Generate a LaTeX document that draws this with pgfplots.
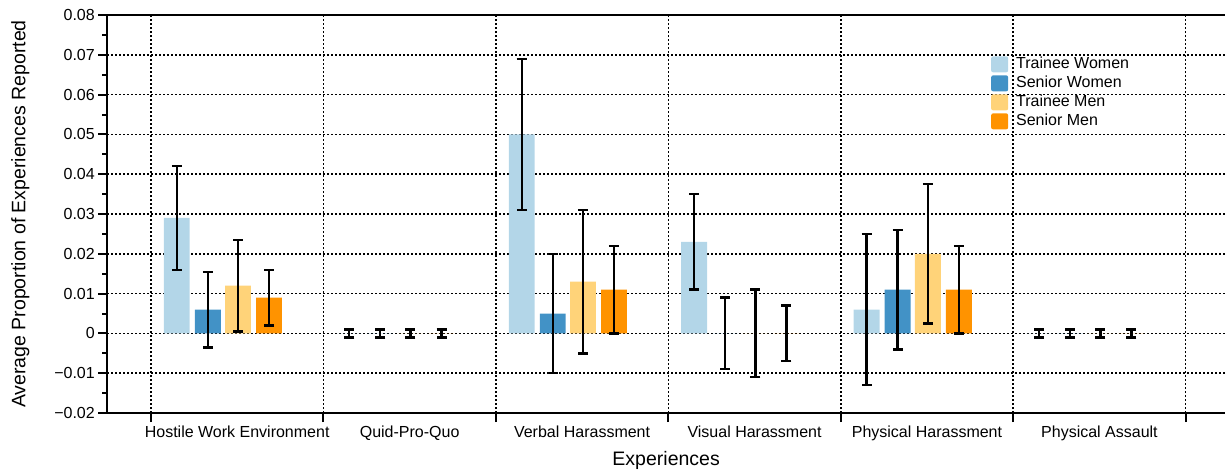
\documentclass[border=0pt]{standalone}
\usepackage{pgfplots}
\pgfplotsset{compat=1.18}
\usepackage{fontspec}
\setmainfont{Liberation Sans}
\definecolor{tw}{RGB}{179,214,232}
\definecolor{sw}{RGB}{66,146,198}
\definecolor{tm}{RGB}{255,211,121}
\definecolor{sm}{RGB}{255,147,0}
\begin{document}
\begin{tikzpicture}
\begin{axis}[
  name=ax, at={(0,0)}, anchor=south west, scale only axis,
  width=1117.7pt, height=398pt,
  xmin=-0.253, xmax=6.228, ymin=-0.02, ymax=0.08,
  separate axis lines,
  axis x line=box, axis y line=left,
  axis line style={-, line width=2pt, black},
  tick align=outside,
  major tick length=9pt, minor tick length=5pt,
  every tick/.style={black, line width=2pt},
  xtick={0,1,2,3,4,5,6}, xticklabels={}, xtick pos=left,
  extra x ticks={0.5,1.5,2.5,3.5,4.5,5.5},
  extra x tick labels={Hostile Work Environment,Quid-Pro-Quo,Verbal Harassment,Visual Harassment,Physical Harassment,Physical Assault},
  extra x tick style={major tick length=0pt, grid=none},
  xticklabel style={yshift=-9pt},
  ytick={-0.02,-0.01,0,0.01,0.02,0.03,0.04,0.05,0.06,0.07,0.08},
  yticklabels={−0.02,−0.01,0,0.01,0.02,0.03,0.04,0.05,0.06,0.07,0.08},
  scaled y ticks=false,
  minor y tick num=1,
  tick label style={font=\fontsize{16}{18}\selectfont},
  grid=major,
  grid style={black, line width=1.6pt, dash pattern=on 1.6pt off 2.4pt},
  xlabel={Experiences},
  ylabel={Average Proportion of Experiences Reported},
  every axis x label/.style={at={(rel axis cs:0.5,0)}, anchor=center, yshift=-47pt, font=\fontsize{19.5}{22}\selectfont},
  every axis y label/.style={at={(rel axis cs:0,0.5)}, xshift=-87pt, rotate=90, anchor=center, font=\fontsize{19.5}{22}\selectfont},
  legend image code/.code={\fill[#1, draw=none, rounded corners=2pt] (0pt,-8pt) rectangle (17pt,8pt); \path (24pt,0pt);},
  legend cell align=left,
  legend style={at={(rel axis cs:0.7906,0.8985)}, anchor=north west, draw=none, fill=none,
    inner sep=0pt, row sep=1.5pt,
    font=\fontsize{16}{18}\selectfont,
    nodes={inner sep=1pt, text height=12pt, text depth=3.5pt}},
  error bars/error bar style={line width=2.4pt, black},
  error bars/error mark options={rotate=90, mark size=5pt, line width=2.4pt, black},
]
\addplot[ybar, bar width=0.15, bar shift=0pt, fill=tw, draw=none,
  error bars/.cd, y dir=both, y explicit]
  table[x=x, y=y, y error=e] {
x y e
0.15 0.029 0.013
1.15 0 0.001
2.15 0.050 0.019
3.15 0.023 0.012
4.15 0.006 0.019
5.15 0 0.001
};
\addlegendentry{Trainee Women}
\addplot[ybar, bar width=0.15, bar shift=0pt, fill=sw, draw=none,
  error bars/.cd, y dir=both, y explicit]
  table[x=x, y=y, y error=e] {
x y e
0.33 0.006 0.0095
1.33 0 0.001
2.33 0.005 0.015
3.33 0 0.009
4.33 0.011 0.015
5.33 0 0.001
};
\addlegendentry{Senior Women}
\addplot[ybar, bar width=0.15, bar shift=0pt, fill=tm, draw=none,
  error bars/.cd, y dir=both, y explicit]
  table[x=x, y=y, y error=e] {
x y e
0.505 0.012 0.0115
1.505 0 0.001
2.505 0.013 0.018
3.505 0 0.011
4.505 0.020 0.0175
5.505 0 0.001
};
\addlegendentry{Trainee Men}
\addplot[ybar, bar width=0.15, bar shift=0pt, fill=sm, draw=none,
  error bars/.cd, y dir=both, y explicit]
  table[x=x, y=y, y error=e] {
x y e
0.685 0.009 0.007
1.685 0 0.001
2.685 0.011 0.011
3.685 0 0.007
4.685 0.011 0.011
5.685 0 0.001
};
\addlegendentry{Senior Men}
\end{axis}
\pgfresetboundingbox
\path[use as bounding box] (-107.3pt,-59pt) rectangle (1117.7pt,413pt);
\end{tikzpicture}
\end{document}
